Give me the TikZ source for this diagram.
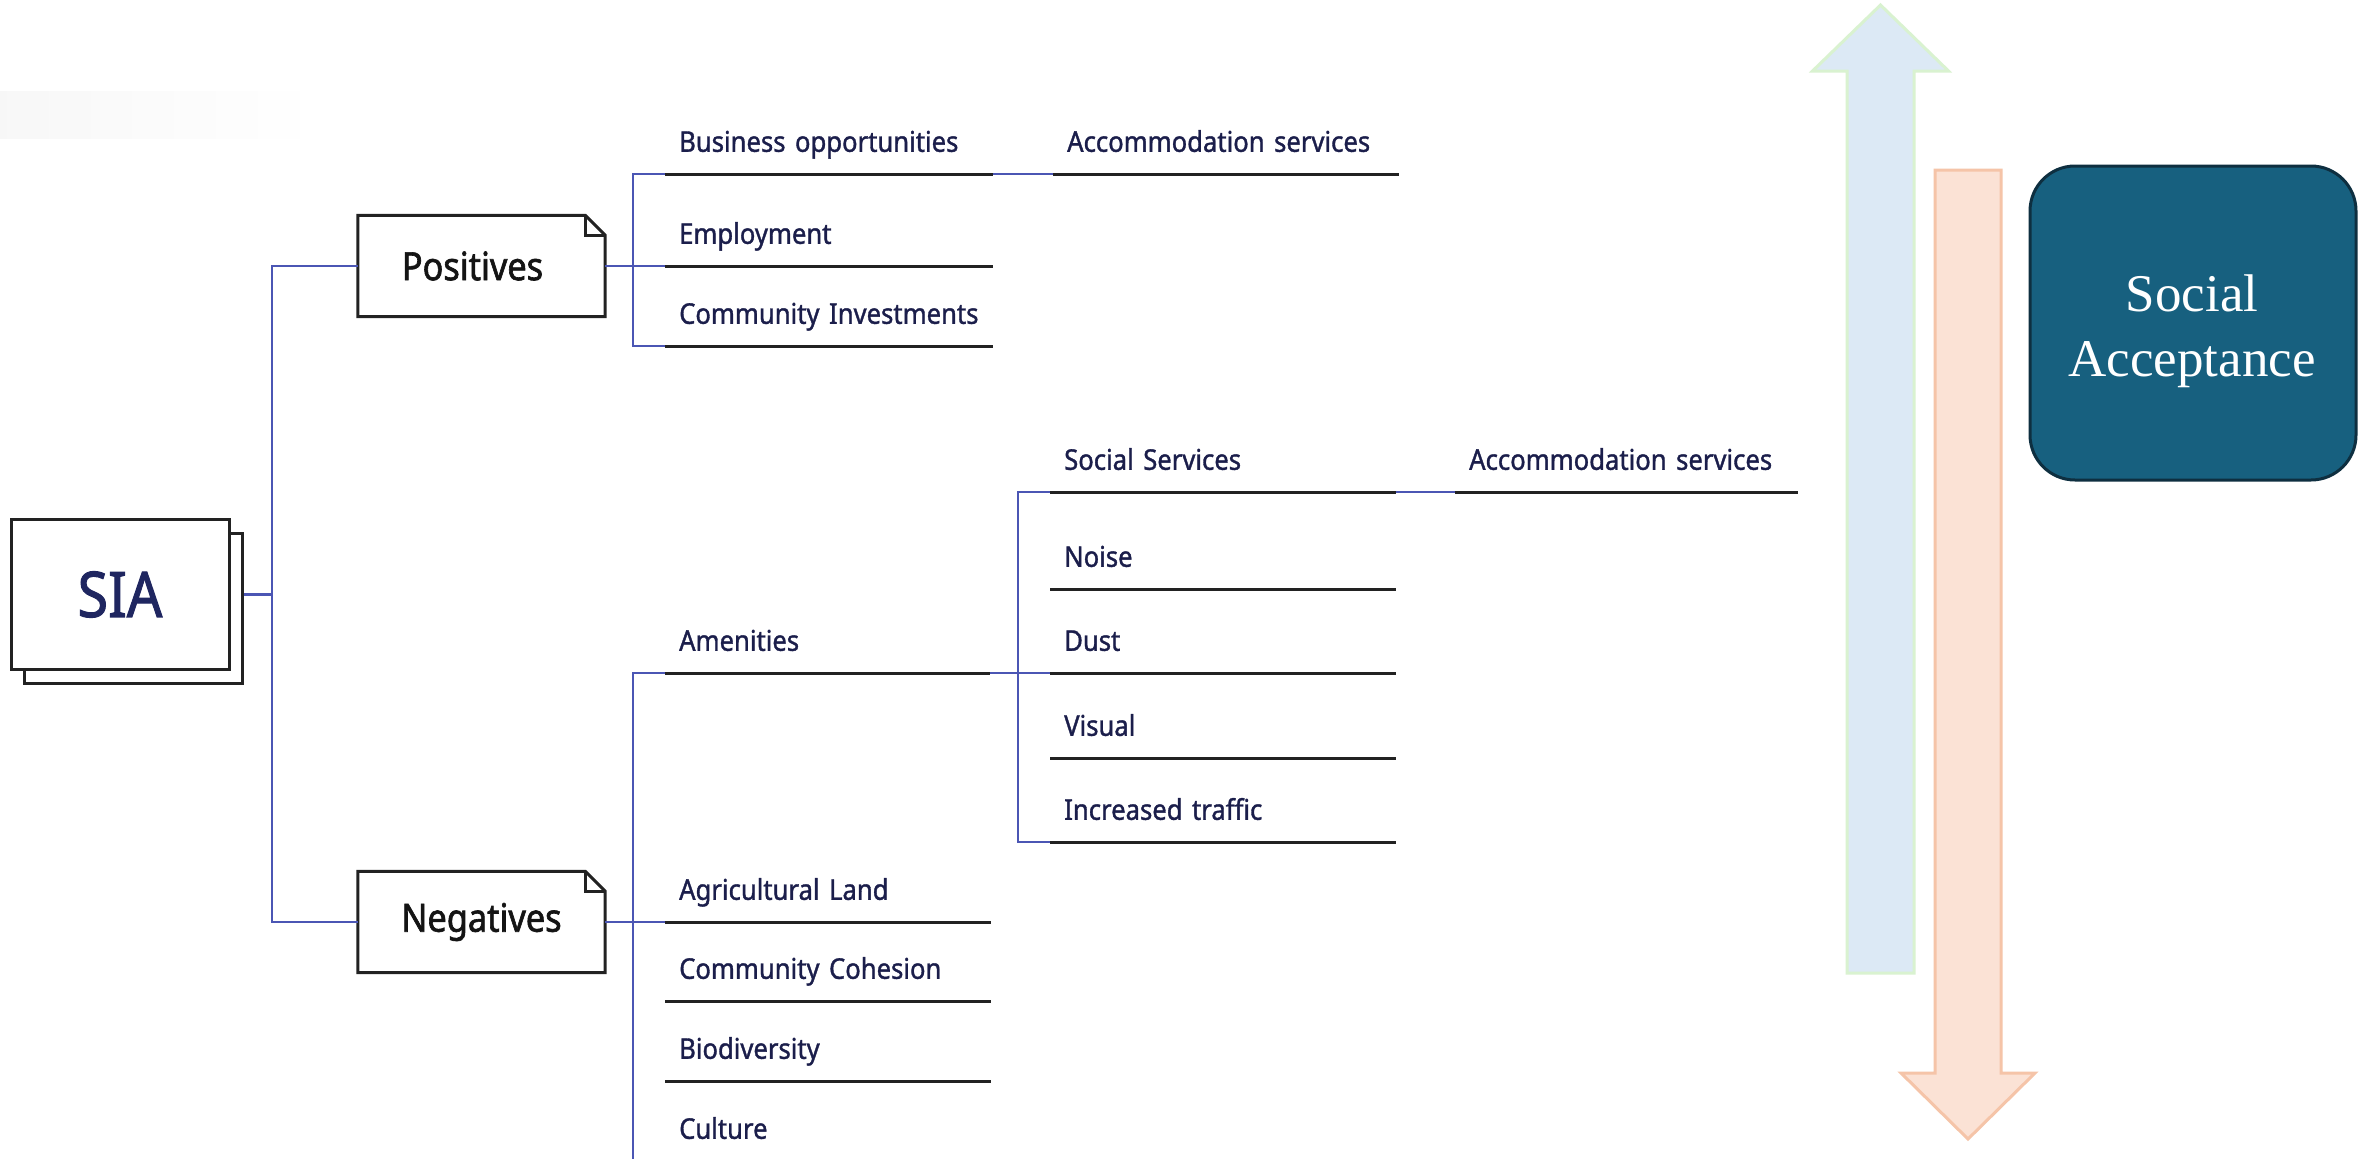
\documentclass[tikz,border=0pt]{standalone}
\usepackage{fontspec}
\newfontfamily\labfont[FakeStretch=0.9,FakeBold=1.2]{Noto Sans}
\newfontfamily\labboxfont[FakeStretch=0.88,FakeBold=1.6]{Noto Sans}
\newfontfamily\saserif{Liberation Serif}
\definecolor{navy}{HTML}{1B1E4B}
\definecolor{siacol}{HTML}{1F2660}
\definecolor{conn}{HTML}{4B56B4}
\definecolor{ulc}{HTML}{222222}
\definecolor{saFill}{HTML}{17607F}
\definecolor{saLine}{HTML}{0E2F40}
\definecolor{upFill}{HTML}{DCE9F5}
\definecolor{upLine}{HTML}{D9F2D0}
\definecolor{dnFill}{HTML}{FBE2D5}
\definecolor{dnLine}{HTML}{F5C4A8}
\newcommand\myitemfont{\fontsize{28.5}{32}\selectfont\labfont}
\newcommand\myboxfont{\fontsize{39}{44}\selectfont\labboxfont}
\newcommand\mysiafont{\fontsize{63}{70}\selectfont\labboxfont}
\newcommand\mysafont{\fontsize{53}{65}\selectfont\saserif}
\tikzset{
  ul/.style={draw=ulc, line width=3pt},
  bl/.style={draw=conn, line width=2.6pt},
  item/.style={anchor=south west, text width=#1, align=left, inner xsep=14pt, inner ysep=0pt,
    text height=24pt, text depth=22pt, font=\myitemfont, text=navy},
  notebox/.style={minimum width=247pt, minimum height=101pt, inner sep=0pt, font=\myboxfont, text=black!92},
  boxline/.style={draw=ulc, line width=3pt, line join=miter},
  siabox/.style={draw=ulc, line width=3pt, fill=white, minimum width=218pt, minimum height=150pt, inner sep=0pt},
  sabox/.style={draw=saLine, fill=saFill, line width=3pt, rounded corners=45pt, minimum width=326pt, minimum height=314pt},
  satext/.style={text=white, font=\mysafont, align=center, inner sep=0pt},
}
\begin{document}
\begin{tikzpicture}[x=1pt,y=-1pt]
\useasboundingbox (0,0) rectangle (2361,1159);
\fill[white] (0,0) rectangle (2361,1159);
\shade[left color=black!3, right color=white] (0,91) rectangle (320,138);

% arrows
\draw[line width=3pt, draw=upLine, fill=upFill, line join=miter]
  (1880.5,5) -- (1948.5,71) -- (1914,71) -- (1914,973) -- (1847,973) -- (1847,71) -- (1812.5,71) -- cycle;
\draw[line width=3pt, draw=dnLine, fill=dnFill, line join=miter]
  (1935,170) -- (2001,170) -- (2001,1073) -- (2035,1073) -- (1968,1139) -- (1901,1073) -- (1935,1073) -- cycle;

% Social acceptance
\node[sabox] (sa) at (2193,323) {};
\node[satext] (satxt) at (2192,331) {Social\\Acceptance};

% SIA
\node[siabox] (siaback) at (133.5,608) {};
\node[siabox, font=\mysiafont, text=siacol] (sia) at (120,594.5) {SIA};

% Positives / Negatives
\node[notebox] (pos) at (481.5,266) {Positives\hspace*{18pt}\mbox{}};
\node[notebox] (neg) at (481.5,922) {Negatives};
\foreach \b in {pos,neg}{
  \draw[boxline] (\b.north west) -- ([xshift=-20pt]\b.north east) -- ([yshift=-20pt]\b.north east)
     -- (\b.south east) -- (\b.south west) -- cycle;
  \draw[boxline] ([xshift=-20pt]\b.north east) |- ([yshift=-20pt]\b.north east);
}

% items
\node[item=300] (biz) at (665,174) {Business~opportunities};
\node[item=300] (emp) at (665,266) {Employment};
\node[item=300] (comm) at (665,346) {Community~Investments};
\node[item=318] (acc1) at (1053,174) {Accommodation~services};
\node[item=297] (amen) at (665,673) {Amenities};
\node[item=298] (agri) at (665,922) {Agricultural~Land};
\node[item=298] (cohe) at (665,1001) {Community~Cohesion};
\node[item=298] (bio) at (665,1081) {Biodiversity};
\node[item=298] (cult) at (665,1161) {Culture};
\node[item=318] (soc) at (1050,492) {Social~Services};
\node[item=318] (noise) at (1050,589) {Noise};
\node[item=318] (dust) at (1050,673) {Dust};
\node[item=318] (vis) at (1050,758) {Visual};
\node[item=318] (traf) at (1050,842) {Increased~traffic};
\node[item=315] (acc2) at (1455,492) {Accommodation~services};

\foreach \n in {biz,emp,comm,acc1,amen,agri,cohe,bio,cult,soc,noise,dust,vis,traf,acc2}{
  \draw[ul] (\n.south west) -- (\n.south east);
}

% connectors
\draw[bl] (sia.east -| siaback.east) -- ++(28,0) coordinate (sj);
\draw[bl] (pos.west) -| (sj) |- (neg.west);
\draw[bl] (biz.south west) -- ++(-32,0) |- (comm.south west);
\draw[bl] (pos.east) -- (emp.south west);
\draw[bl] (biz.south east) -- (acc1.south west);
\draw[bl] (amen.south west) -- ++(-32,0) |- (cult.south west);
\draw[bl] (neg.east) -- (agri.south west);
\draw[bl] (amen.south east) -- (dust.south west);
\draw[bl] (soc.south west) -- ++(-32,0) |- (traf.south west);
\draw[bl] (soc.south east) -- (acc2.south west);
\end{tikzpicture}
\end{document}
